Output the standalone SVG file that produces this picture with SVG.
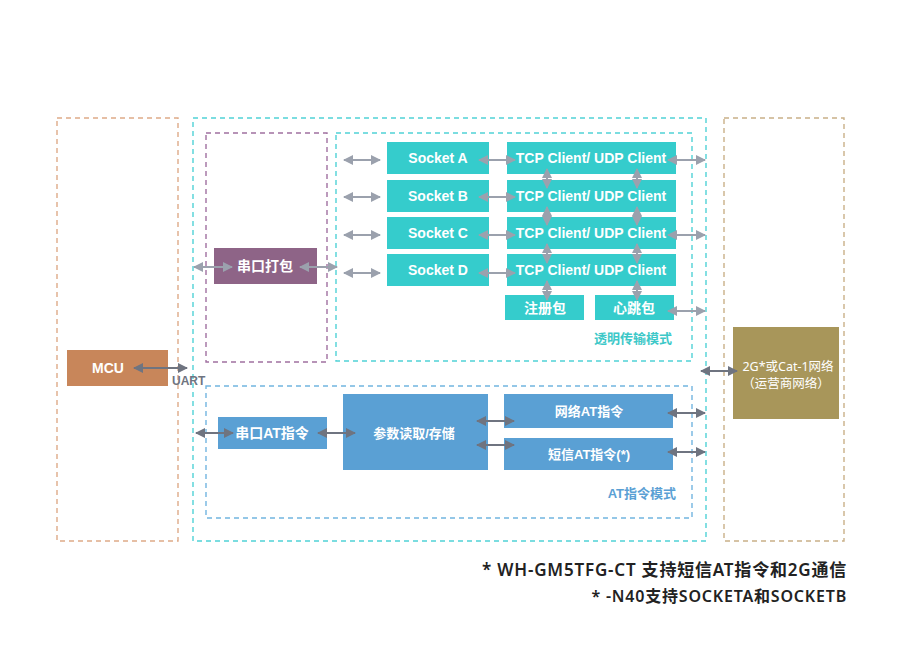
<svg xmlns="http://www.w3.org/2000/svg" width="900" height="662" viewBox="0 0 900 662">
<style>
text{font-family:"Liberation Sans","Noto Sans CJK SC",sans-serif;font-weight:bold;}
.w{fill:#fff;text-anchor:middle;dominant-baseline:central;}
.s14{font-size:14px;}
.s13{font-size:13px;}
.s12{font-size:12px;}
.teal{fill:#35cccc;}
.blue{fill:#5aa0d4;}
.dash{fill:none;stroke-width:1.4;stroke-dasharray:5 4;}
.la{stroke:#9ba1ad;stroke-width:2;fill:none;marker-start:url(#al);marker-end:url(#ar);}
.da{stroke:#6f7480;stroke-width:2;fill:none;marker-start:url(#dl);marker-end:url(#dr);}
.note{font-family:"Noto Sans","Noto Sans CJK SC",sans-serif;font-weight:600;fill:#222;text-anchor:end;dominant-baseline:central;letter-spacing:0.8px;}
</style>
<defs>
<marker id="ar" viewBox="0 0 10 10" refX="9" refY="5" markerWidth="5" markerHeight="5" orient="auto" markerUnits="strokeWidth"><path d="M0,0L10,5L0,10z" fill="#9ba1ad"/></marker>
<marker id="al" viewBox="0 0 10 10" refX="9" refY="5" markerWidth="5" markerHeight="5" orient="auto-start-reverse" markerUnits="strokeWidth"><path d="M0,0L10,5L0,10z" fill="#9ba1ad"/></marker>
<marker id="dr" viewBox="0 0 10 10" refX="9" refY="5" markerWidth="5" markerHeight="5" orient="auto" markerUnits="strokeWidth"><path d="M0,0L10,5L0,10z" fill="#6f7480"/></marker>
<marker id="dl" viewBox="0 0 10 10" refX="9" refY="5" markerWidth="5" markerHeight="5" orient="auto-start-reverse" markerUnits="strokeWidth"><path d="M0,0L10,5L0,10z" fill="#6f7480"/></marker>
</defs>
<rect width="900" height="662" fill="#fff"/>
<g id="frames">
<rect class="dash" x="57" y="118" width="121" height="423" stroke="#deaa88"/>
<rect class="dash" x="193" y="118" width="513" height="423" stroke="#50d2d6"/>
<rect class="dash" x="724" y="118" width="120" height="423" stroke="#c9b088"/>
<rect class="dash" x="206" y="133" width="121" height="229" stroke="#a070a0"/>
<rect class="dash" x="336" y="133" width="356" height="228" stroke="#50d2d6"/>
<rect class="dash" x="206" y="386" width="486" height="132" stroke="#72b5e0"/>
<text x="672" y="338" font-size="13" fill="#3dc8c8" text-anchor="end" dominant-baseline="central">透明传输模式</text>
<text x="676" y="493" font-size="13" fill="#5aa0d4" text-anchor="end" dominant-baseline="central">AT指令模式</text>
</g>
<g id="mcu"><rect x="67" y="350" width="101" height="36" fill="#c8865a"/><text class="w s14" x="108" y="368">MCU</text></g>
<g id="pack"><rect x="214" y="248" width="103" height="36" fill="#8e6487"/><text class="w s14" x="265" y="266">串口打包</text></g>
<g id="socketA"><rect class="teal" x="387" y="142" width="102" height="32"/><text class="w s14" x="438" y="158">Socket A</text></g>
<g id="socketB"><rect class="teal" x="387" y="180" width="102" height="32"/><text class="w s14" x="438" y="196">Socket B</text></g>
<g id="socketC"><rect class="teal" x="387" y="217" width="102" height="32"/><text class="w s14" x="438" y="233">Socket C</text></g>
<g id="socketD"><rect class="teal" x="387" y="254" width="102" height="32"/><text class="w s14" x="438" y="270">Socket D</text></g>
<g id="tcpA"><rect class="teal" x="507" y="142" width="169" height="32"/><text class="w s14" x="591" y="158">TCP Client/ UDP Client</text></g>
<g id="tcpB"><rect class="teal" x="507" y="180" width="169" height="32"/><text class="w s14" x="591" y="196">TCP Client/ UDP Client</text></g>
<g id="tcpC"><rect class="teal" x="507" y="217" width="169" height="32"/><text class="w s14" x="591" y="233">TCP Client/ UDP Client</text></g>
<g id="tcpD"><rect class="teal" x="507" y="254" width="169" height="32"/><text class="w s14" x="591" y="270">TCP Client/ UDP Client</text></g>
<g id="reg"><rect class="teal" x="505" y="295" width="79" height="25"/><text class="w s14" x="545" y="308">注册包</text></g>
<g id="heart"><rect class="teal" x="595" y="295" width="79" height="25"/><text class="w s14" x="634" y="308">心跳包</text></g>
<g id="serialAT"><rect class="blue" x="218" y="417" width="109" height="32"/><text class="w s14" x="272" y="433">串口AT指令</text></g>
<g id="param"><rect class="blue" x="343" y="394" width="145" height="76"/><text class="w s13" x="414" y="433">参数读取/存储</text></g>
<g id="netAT"><rect class="blue" x="504" y="394" width="169" height="34"/><text class="w s13" x="589" y="411">网络AT指令</text></g>
<g id="smsAT"><rect class="blue" x="504" y="438" width="169" height="32"/><text class="w s13" x="589" y="454">短信AT指令(*)</text></g>
<g id="network"><rect x="733" y="327" width="106" height="92" fill="#a8965a"/>
<text class="w" x="788" y="366" style="font-size:12.5px;font-weight:normal;font-family:'Noto Sans','Noto Sans CJK SC',sans-serif">2G*或Cat-1网络</text>
<text class="w" x="786" y="383" style="font-size:12.5px;font-weight:normal;font-family:'Noto Sans','Noto Sans CJK SC',sans-serif">（运营商网络）</text></g>
<g id="connectors">
<line class="da" x1="134" y1="368" x2="187" y2="368"/>
<text x="172" y="381" font-size="12" fill="#6f7480" dominant-baseline="central">UART</text>
<line class="la" x1="194" y1="267" x2="232" y2="267"/>
<line class="la" x1="300" y1="267" x2="337" y2="267"/>
<line class="la" x1="344" y1="160" x2="380" y2="160"/>
<line class="la" x1="344" y1="197" x2="380" y2="197"/>
<line class="la" x1="344" y1="235" x2="380" y2="235"/>
<line class="la" x1="344" y1="273" x2="380" y2="273"/>
<line class="la" x1="479" y1="160" x2="515" y2="160"/>
<line class="la" x1="479" y1="197" x2="515" y2="197"/>
<line class="la" x1="479" y1="235" x2="515" y2="235"/>
<line class="la" x1="479" y1="273" x2="515" y2="273"/>
<line class="la" x1="668" y1="160" x2="705" y2="160"/>
<line class="la" x1="668" y1="235" x2="705" y2="235"/>
<line class="la" x1="668" y1="311" x2="705" y2="311"/>
<line class="la" x1="547" y1="169" x2="547" y2="188"/>
<line class="la" x1="547" y1="207" x2="547" y2="225"/>
<line class="la" x1="547" y1="244" x2="547" y2="263"/>
<line class="la" x1="547" y1="281" x2="547" y2="300"/>
<line class="la" x1="637" y1="169" x2="637" y2="188"/>
<line class="la" x1="637" y1="207" x2="637" y2="225"/>
<line class="la" x1="637" y1="244" x2="637" y2="263"/>
<line class="la" x1="637" y1="281" x2="637" y2="300"/>
<line class="da" x1="196" y1="433" x2="233" y2="433"/>
<line class="da" x1="318" y1="433" x2="355" y2="433"/>
<line class="da" x1="477" y1="421" x2="514" y2="421"/>
<line class="da" x1="477" y1="445" x2="514" y2="445"/>
<line class="da" x1="668" y1="413" x2="705" y2="413"/>
<line class="da" x1="668" y1="452" x2="705" y2="452"/>
<line class="da" x1="701" y1="371" x2="737" y2="371"/>
</g>
<g id="notes">
<text class="note" x="847" y="569" font-size="17">* WH-GM5TFG-CT 支持短信AT指令和2G通信</text>
<text class="note" x="847" y="596" font-size="16">* -N40支持SOCKETA和SOCKETB</text>
</g>
</svg>
